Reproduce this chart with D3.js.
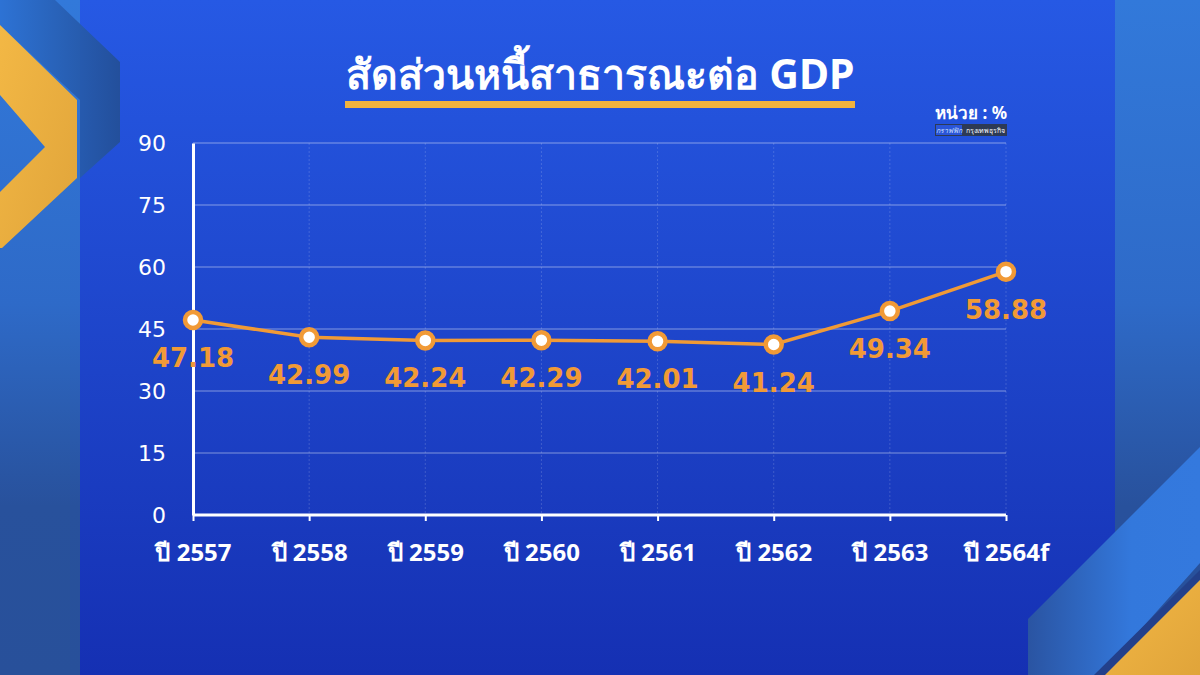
<!DOCTYPE html>
<html>
<head>
<meta charset="utf-8">
<script src="https://cdnjs.cloudflare.com/ajax/libs/d3/7.8.5/d3.min.js"></script>
<style>
  html, body { margin: 0; padding: 0; background: #2459e2; }
  #dataviz { width: 1200px; height: 675px; }
  text { font-family: "Noto Sans", "DejaVu Sans", sans-serif; }
</style>
</head>
<body>
<div id="dataviz"></div>
<script>
// data
var years = ["ปี 2557", "ปี 2558", "ปี 2559", "ปี 2560", "ปี 2561", "ปี 2562", "ปี 2563", "ปี 2564f"];
var debtRatio = [47.18, 42.99, 42.24, 42.29, 42.01, 41.24, 49.34, 58.88];
var yTicks = [0, 15, 30, 45, 60, 75, 90];

var titleText = "สัดส่วนหนี้สาธารณะต่อ GDP";
var unitText = "หน่วย : %";

buildChart();

function buildChart() {
    var width = 1200, height = 675;

    var svg = d3.select("#dataviz")
        .append("svg")
        .attr("width", width)
        .attr("height", height);

    var defs = svg.append("defs");

    // background gradients
    var bg = defs.append("linearGradient").attr("id", "bg")
        .attr("x1", 0).attr("y1", 0).attr("x2", 0).attr("y2", 1);
    bg.append("stop").attr("offset", "0%").attr("stop-color", "#2659e4");
    bg.append("stop").attr("offset", "55%").attr("stop-color", "#1d43c8");
    bg.append("stop").attr("offset", "100%").attr("stop-color", "#1530b3");

    var side = defs.append("linearGradient").attr("id", "side")
        .attr("x1", 0).attr("y1", 0).attr("x2", 0).attr("y2", 1);
    side.append("stop").attr("offset", "0%").attr("stop-color", "#3279da");
    side.append("stop").attr("offset", "45%").attr("stop-color", "#2e6ac8");
    side.append("stop").attr("offset", "75%").attr("stop-color", "#28519c");
    side.append("stop").attr("offset", "100%").attr("stop-color", "#28509a");

    var band = defs.append("linearGradient").attr("id", "band")
        .attr("x1", 0).attr("y1", 0).attr("x2", 1).attr("y2", 0);
    band.append("stop").attr("offset", "0%").attr("stop-color", "#2a54a2");
    band.append("stop").attr("offset", "60%").attr("stop-color", "#3378dc");
    band.append("stop").attr("offset", "100%").attr("stop-color", "#3479de");

    var darkBand = defs.append("linearGradient").attr("id", "darkBand")
        .attr("x1", 0).attr("y1", 0).attr("x2", 1).attr("y2", 0);
    darkBand.append("stop").attr("offset", "0%").attr("stop-color", "#2d72d4");
    darkBand.append("stop").attr("offset", "100%").attr("stop-color", "#234f98");

    var gold = defs.append("linearGradient").attr("id", "gold")
        .attr("x1", 0).attr("y1", 0).attr("x2", 1).attr("y2", 1);
    gold.append("stop").attr("offset", "0%").attr("stop-color", "#f3b845");
    gold.append("stop").attr("offset", "100%").attr("stop-color", "#e0a43a");

    svg.append("rect").attr("width", width).attr("height", height).attr("fill", "url(#bg)");
    svg.append("rect").attr("x", 0).attr("width", 80).attr("height", height).attr("fill", "url(#side)");
    svg.append("rect").attr("x", 1115).attr("width", 85).attr("height", height).attr("fill", "url(#side)");

    // top-left chevrons
    svg.append("path")
        .attr("d", "M55,0 L120,62 L120,142 L80,178 L80,100 L0,25 L0,0 Z")
        .attr("fill", "url(#darkBand)").attr("opacity", 0.95);
    svg.append("path")
        .attr("d", "M0,25 L77,100 L77,178 L2,248 L0,248 L0,192 L45,147 L0,95 Z")
        .attr("fill", "url(#gold)");

    // bottom-right bands
    svg.append("path")
        .attr("d", "M1028,619 L1200,447 L1200,563 L1100,675 L1028,675 Z")
        .attr("fill", "url(#band)");
    svg.append("path")
        .attr("d", "M1094,675 L1200,570 L1200,580 L1105,675 Z")
        .attr("fill", "#23408a");
    svg.append("path")
        .attr("d", "M1105,675 L1200,580 L1200,675 Z")
        .attr("fill", "url(#gold)");

    // title
    svg.append("text")
        .attr("x", 600).attr("y", 89)
        .attr("text-anchor", "middle")
        .attr("fill", "#ffffff")
        .style("font-size", "41px").style("font-weight", "bold")
        .text(titleText);
    svg.append("rect")
        .attr("x", 345).attr("y", 101).attr("width", 510).attr("height", 7)
        .attr("fill", "#f2b33d");

    // unit + credit
    svg.append("text")
        .attr("x", 1007).attr("y", 119)
        .attr("text-anchor", "end")
        .attr("fill", "#ffffff")
        .style("font-size", "17px").style("font-weight", "bold")
        .text(unitText);
    svg.append("rect").attr("x", 935).attr("y", 124).attr("width", 72).attr("height", 12).attr("fill", "#2d3a55");
    svg.append("rect").attr("x", 936).attr("y", 125).attr("width", 26).attr("height", 10).attr("fill", "#2a55d8");
    svg.append("text").attr("x", 949).attr("y", 133).attr("text-anchor", "middle")
        .attr("fill", "#cfe0ff").style("font-size", "7px").style("font-style", "italic").text("กราฟฟิก");
    svg.append("text").attr("x", 985).attr("y", 133).attr("text-anchor", "middle")
        .attr("fill", "#ffffff").style("font-size", "7px").text("กรุงเทพธุรกิจ");

    // scales
    var x = d3.scalePoint().domain(years).range([193, 1006]);
    var y = d3.scaleLinear().domain([0, 90]).range([515, 143]);

    // gridlines
    svg.append("g").selectAll("line.h")
        .data(yTicks.filter(function(t) { return t > 0; }))
        .enter().append("line")
        .attr("x1", x(years[0])).attr("x2", x(years[years.length - 1]))
        .attr("y1", function(d) { return y(d); }).attr("y2", function(d) { return y(d); })
        .attr("stroke", "rgba(255,255,255,0.45)").attr("stroke-width", 1);

    svg.append("g").selectAll("line.v")
        .data(years.slice(1))
        .enter().append("line")
        .attr("x1", function(d) { return x(d); }).attr("x2", function(d) { return x(d); })
        .attr("y1", y(90)).attr("y2", y(0))
        .attr("stroke", "rgba(255,255,255,0.16)")
        .attr("stroke-dasharray", "2,2").attr("stroke-width", 1);

    // y axis
    var yAxis = svg.append("g")
        .attr("transform", "translate(" + x(years[0]) + ",0)")
        .call(d3.axisLeft(y).tickValues(yTicks).tickSize(0).tickPadding(27));
    yAxis.select(".domain").attr("stroke", "#ffffff").attr("stroke-width", 3);
    yAxis.selectAll("text")
        .attr("fill", "#ffffff")
        .style("font-size", "22px")
        .style("font-family", "'DejaVu Sans', sans-serif");

    // x axis
    var xAxis = svg.append("g")
        .attr("transform", "translate(0," + y(0) + ")")
        .call(d3.axisBottom(x).tickSize(6).tickPadding(23));
    xAxis.select(".domain").attr("stroke", "#ffffff").attr("stroke-width", 3)
        .attr("d", "M" + x(years[0]) + ",0H" + x(years[years.length - 1]));
    xAxis.selectAll(".tick line").attr("stroke", "#ffffff").attr("stroke-width", 2);
    xAxis.selectAll("text")
        .attr("fill", "#ffffff")
        .style("font-size", "24px")
        .style("font-weight", "bold")
        .style("font-family", "'Noto Sans', sans-serif");

    // line
    var line = d3.line()
        .x(function(d, i) { return x(years[i]); })
        .y(function(d) { return y(d); });

    svg.append("path")
        .datum(debtRatio)
        .attr("d", line)
        .attr("fill", "none")
        .attr("stroke", "#f19a36")
        .attr("stroke-width", 3.5);

    svg.append("g").selectAll("circle")
        .data(debtRatio)
        .enter().append("circle")
        .attr("cx", function(d, i) { return x(years[i]); })
        .attr("cy", function(d) { return y(d); })
        .attr("r", 8)
        .attr("fill", "#ffffff")
        .attr("stroke", "#f19a36")
        .attr("stroke-width", 4.5);

    // value labels
    svg.append("g").selectAll("text")
        .data(debtRatio)
        .enter().append("text")
        .attr("x", function(d, i) { return x(years[i]); })
        .attr("y", function(d) { return y(d) + 47; })
        .attr("text-anchor", "middle")
        .attr("fill", "#f19a36")
        .style("font-size", "26px")
        .style("font-weight", "bold")
        .style("font-family", "'DejaVu Sans', sans-serif")
        .text(function(d) { return d.toFixed(2); });
}
</script>
</body>
</html>
